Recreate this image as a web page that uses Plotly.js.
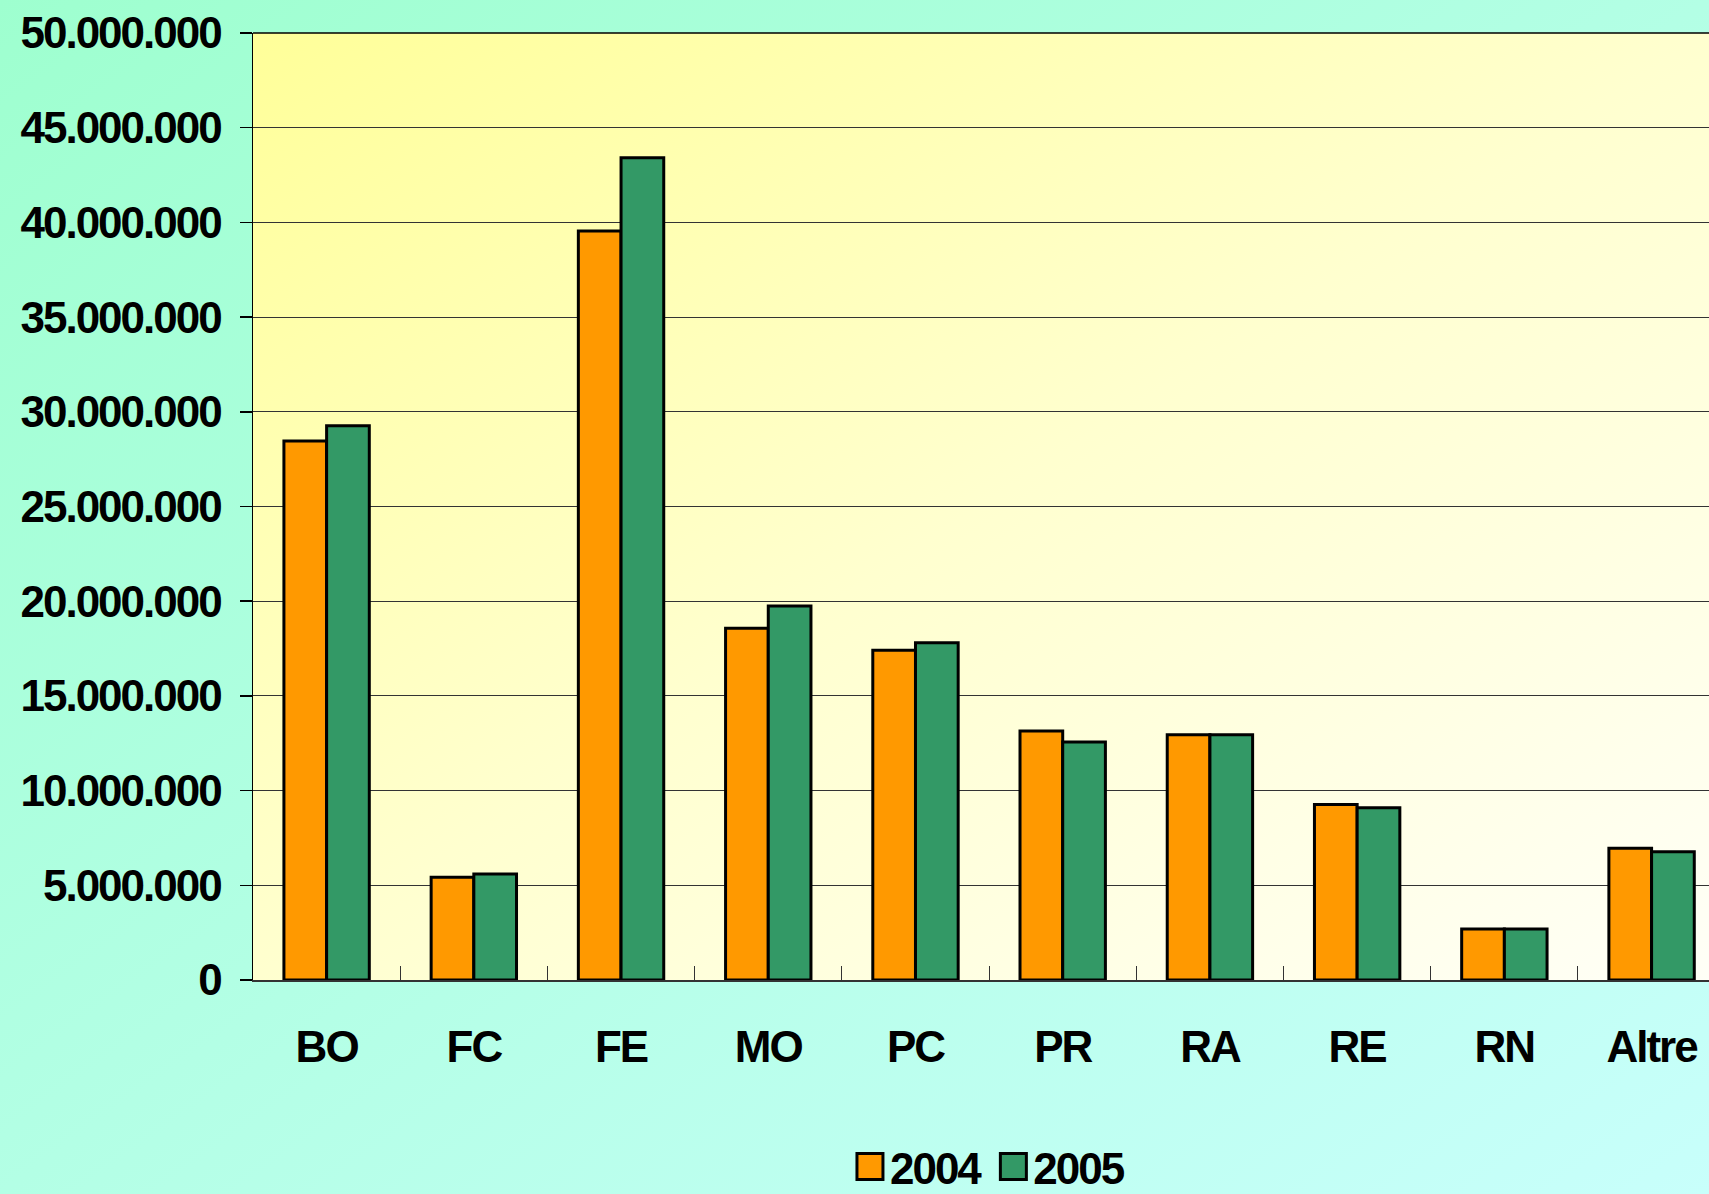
<!DOCTYPE html>
<html>
<head>
<meta charset="utf-8">
<script src="https://cdn.plot.ly/plotly-3.0.1.min.js"></script>
<style>
  html, body { margin: 0; padding: 0; }
  #chart {
    width: 1709px; height: 1194px;
    background: linear-gradient(to bottom right, #9effcf 0%, #b3ffe5 50%, #c8fffb 100%);
  }
  #chart .xtick text, #chart .ytick text, #chart .legendtext { letter-spacing: -2px; }
</style>
</head>
<body>
<div id="chart"></div>
<script>
const categories = ["BO", "FC", "FE", "MO", "PC", "PR", "RA", "RE", "RN", "Altre"];
const values2004 = [28460000, 5420000, 39550000, 18570000, 17410000, 13150000, 12950000, 9270000, 2690000, 6950000];
const values2005 = [29270000, 5600000, 43420000, 19750000, 17810000, 12570000, 12950000, 9100000, 2690000, 6770000];
const seriesNames = ["2004", "2005"];
const yTickVals = [0, 5000000, 10000000, 15000000, 20000000, 25000000, 30000000, 35000000, 40000000, 45000000, 50000000];

const font = { family: "Liberation Sans, Arial, sans-serif", size: 44, color: "#000", weight: "bold" };

const traces = [
  { type: "bar", name: seriesNames[0], x: categories, y: values2004,
    marker: { color: "#ff9900", line: { color: "#000", width: 3 } }, hoverinfo: "skip" },
  { type: "bar", name: seriesNames[1], x: categories, y: values2005,
    marker: { color: "#339966", line: { color: "#000", width: 3 } }, hoverinfo: "skip" }
];

const gradSvg = '<svg xmlns="http://www.w3.org/2000/svg" width="100" height="100" preserveAspectRatio="none">' +
  '<defs><linearGradient id="g" x1="0" y1="0" x2="1" y2="1">' +
  '<stop offset="0" stop-color="#ffff99"/><stop offset="0.5" stop-color="#ffffcf"/><stop offset="1" stop-color="#fffff7"/>' +
  '</linearGradient></defs><rect width="100" height="100" fill="url(#g)"/></svg>';

const layout = {
  width: 1709, height: 1194,
  paper_bgcolor: "rgba(0,0,0,0)",
  plot_bgcolor: "rgba(0,0,0,0)",
  separators: ",.",
  margin: { l: 253, r: 0, t: 33, b: 214, autoexpand: false },
  barmode: "group",
  bargap: 0.42,
  bargroupgap: 0,
  font: font,
  showlegend: true,
  legend: {
    orientation: "h", x: 0.41, xanchor: "left", y: -0.16, yanchor: "top",
    font: font, bgcolor: "rgba(0,0,0,0)", traceorder: "normal"
  },
  xaxis: {
    type: "category", range: [-0.5, 9.39],
    showline: true, linecolor: "#333", linewidth: 1.5,
    ticks: "inside", tickson: "boundaries", ticklen: 14, tickcolor: "#333", tickwidth: 1,
    showgrid: false, tickfont: font, ticklabelstandoff: 28, zeroline: false
  },
  yaxis: {
    range: [0, 50000000], tickvals: yTickVals, tickformat: ",d",
    showline: true, linecolor: "#000", linewidth: 1.5,
    ticks: "outside", ticklen: 12, tickcolor: "#000", tickwidth: 1.5,
    showgrid: true, gridcolor: "#333", gridwidth: 1,
    zeroline: false, tickfont: font, ticklabelstandoff: 10
  },
  images: [{
    source: "data:image/svg+xml;charset=utf-8," + encodeURIComponent(gradSvg),
    xref: "paper", yref: "paper", x: 0, y: 1, sizex: 1, sizey: 1,
    sizing: "stretch", layer: "below", xanchor: "left", yanchor: "top"
  }],
  shapes: [{
    type: "line", xref: "paper", yref: "paper", x0: 0, x1: 1, y0: 1, y1: 1,
    line: { color: "#000", width: 1.5 }
  }]
};

Plotly.newPlot("chart", traces, layout, { staticPlot: true }).then(gd => {
  gd.querySelectorAll(".legendpoints path").forEach(p => p.setAttribute("d", "M13,13H-13V-13H13Z"));
});
</script>
</body>
</html>
